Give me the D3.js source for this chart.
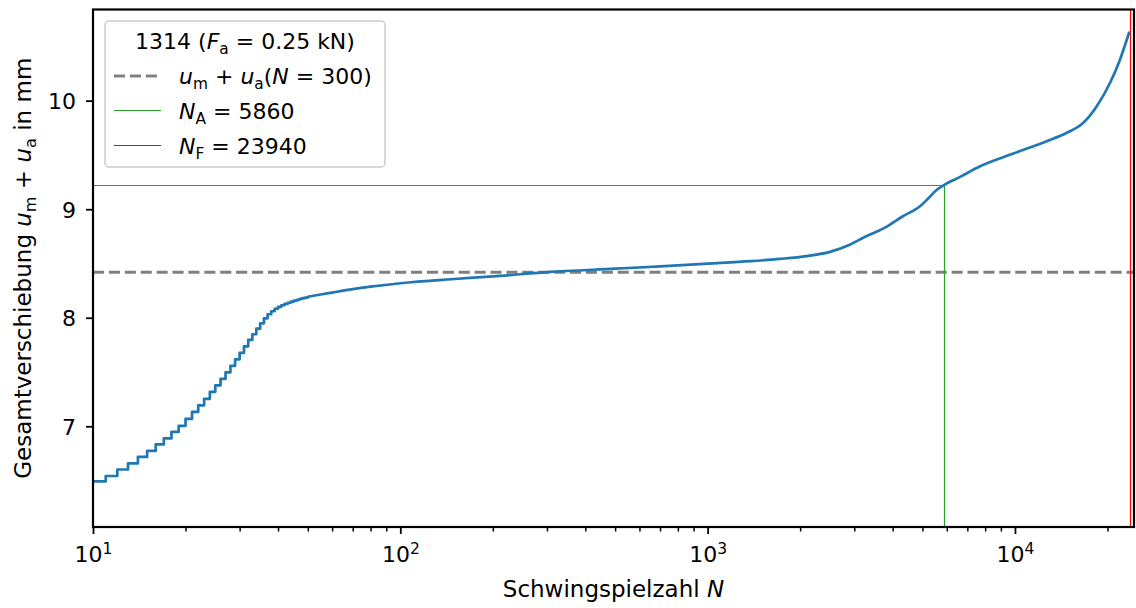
<!DOCTYPE html>
<html>
<head>
<meta charset="utf-8">
<script src="https://cdn.jsdelivr.net/npm/d3@7"></script>
<style>
  body { margin: 0; background: #fff; }
  text { font-family: "DejaVu Sans", sans-serif; fill: #000; }
</style>
</head>
<body>
<svg id="chart" width="1136" height="608"></svg>
<script>
// Early part of the test, one reading per load cycle (drawn as steps)
const stepCycles = [10, 11, 12, 13, 14, 15, 16, 17, 18, 19, 20, 21, 22, 23, 24, 25, 26, 27, 28, 29,
                    30, 31, 32, 33, 34, 35, 36, 37, 38, 39, 40, 41, 42, 43, 44, 45, 46, 47, 48, 49, 50];
const stepDisp = [6.492, 6.542, 6.602, 6.658, 6.718, 6.773, 6.833, 6.888, 6.948, 7.004,
                  7.068, 7.133, 7.193, 7.253, 7.317, 7.377, 7.437, 7.497, 7.557, 7.617,
                  7.677, 7.737, 7.797, 7.848, 7.899, 7.949, 7.995, 8.032, 8.060, 8.083,
                  8.101, 8.115, 8.127, 8.138, 8.148, 8.157, 8.165, 8.173, 8.180, 8.186, 8.193];

// Remaining course of the test up to failure
const trendCycles = [50, 55, 60, 70, 80, 100, 150, 200, 300, 500, 700, 1000, 1380, 1720, 2100,
                     2500, 2900, 3200, 3840, 4320, 4910, 5180, 5500, 5860, 6630, 7700, 9880,
                     12690, 14750, 16690, 18460, 20400, 21980, 23510];
const trendDisp = [8.193, 8.214, 8.232, 8.263, 8.286, 8.318, 8.357, 8.381, 8.420, 8.452, 8.473,
                   8.498, 8.521, 8.542, 8.568, 8.607, 8.673, 8.735, 8.842, 8.935, 9.027, 9.089,
                   9.165, 9.220, 9.298, 9.396, 9.513, 9.626, 9.704, 9.796, 9.949, 10.165,
                   10.380, 10.626];

// Reference level and characteristic cycle numbers
const refDisp = 8.42;           // u_m + u_a at N = 300
const crackCycles = 5860;       // N_A
const crackDisp = 9.22;
const failureCycles = 23940;    // N_F

const xMajorTicks = [10, 100, 1000, 10000];
const xTickExponents = ["1", "2", "3", "4"];
const yTicks = [7, 8, 9, 10];
const yTickLabels = ["7", "8", "9", "10"];

const FONT = 22;
const TITLE_FONT = 23;
const plotLeft = 93, plotRight = 1134, plotTop = 9.5, plotBottom = 527;

const svg = d3.select("#chart");

const x = d3.scaleLog().domain([10, 24400]).range([plotLeft, plotRight]);
const y = d3.scaleLinear().domain([6.072, 10.84]).range([plotBottom, plotTop]);

svg.append("defs").append("clipPath").attr("id", "plotClip")
  .append("rect").attr("x", plotLeft).attr("y", plotTop)
  .attr("width", plotRight - plotLeft).attr("height", plotBottom - plotTop);

const plot = svg.append("g").attr("clip-path", "url(#plotClip)");

// Reference displacement (dashed)
plot.append("line")
  .attr("x1", plotLeft).attr("x2", plotRight)
  .attr("y1", y(refDisp)).attr("y2", y(refDisp))
  .attr("stroke", "#808080").attr("stroke-width", 3)
  .attr("stroke-dasharray", "11.1,4.8");

// N_A marker lines
const crackX = Math.round(x(crackCycles)) + 0.5;
const crackY = Math.round(y(crackDisp)) + 0.5;
plot.append("line")
  .attr("x1", x(10)).attr("x2", crackX)
  .attr("y1", crackY).attr("y2", crackY)
  .attr("stroke", "#2ca02c").attr("stroke-width", 1.2);
plot.append("line")
  .attr("x1", crackX).attr("x2", crackX)
  .attr("y1", plotBottom).attr("y2", crackY)
  .attr("stroke", "#2ca02c").attr("stroke-width", 1.2);

// N_F marker line
const failX = Math.round(x(failureCycles)) - 0.5;
plot.append("line")
  .attr("x1", failX).attr("x2", failX)
  .attr("y1", plotTop).attr("y2", plotBottom)
  .attr("stroke", "#ff0000").attr("stroke-width", 1.2);

// Displacement curve
const stepLine = d3.line().x((d, i) => x(stepCycles[i])).y(d => y(d)).curve(d3.curveStepAfter);
const trendLine = d3.line().x((d, i) => x(trendCycles[i])).y(d => y(d)).curve(d3.curveMonotoneX);

plot.append("path").attr("d", stepLine(stepDisp))
  .attr("fill", "none").attr("stroke", "#1f77b4").attr("stroke-width", 2.7)
  .attr("stroke-linejoin", "round");
plot.append("path").attr("d", trendLine(trendDisp))
  .attr("fill", "none").attr("stroke", "#1f77b4").attr("stroke-width", 2.7)
  .attr("stroke-linejoin", "round").attr("stroke-linecap", "round");

// Minor x ticks
const minorTicks = [];
for (let e = 1; e <= 4; e++) {
  for (let m = 2; m <= 9; m++) {
    const v = m * Math.pow(10, e);
    if (v <= 24400) minorTicks.push(v);
  }
}
const xMinor = svg.append("g").attr("transform", `translate(0,${plotBottom})`)
  .call(d3.axisBottom(x).tickValues(minorTicks).tickSize(4.5).tickFormat(""));
xMinor.select(".domain").remove();
xMinor.selectAll(".tick line").attr("stroke", "#000").attr("stroke-width", 1.5);

// Major x ticks with power-of-ten labels
const xMajor = svg.append("g").attr("transform", `translate(0,${plotBottom})`)
  .call(d3.axisBottom(x).tickValues(xMajorTicks).tickSize(7).tickFormat(""));
xMajor.select(".domain").remove();
xMajor.selectAll(".tick line").attr("stroke", "#000").attr("stroke-width", 1.8);
xMajor.selectAll(".tick text").remove();
xMajor.selectAll(".tick").each(function (d, i) {
  const t = d3.select(this).append("text")
    .attr("y", 35).attr("text-anchor", "middle")
    .style("font-size", FONT + "px");
  t.append("tspan").text("10");
  t.append("tspan").attr("dy", -8).style("font-size", "15.5px").text(xTickExponents[i]);
});

// y axis
const yAxis = svg.append("g").attr("transform", `translate(${plotLeft},0)`)
  .call(d3.axisLeft(y).tickValues(yTicks).tickSize(7).tickPadding(10)
    .tickFormat((d, i) => yTickLabels[i]));
yAxis.select(".domain").remove();
yAxis.selectAll(".tick line").attr("stroke", "#000").attr("stroke-width", 1.8);
yAxis.selectAll(".tick text").style("font-size", FONT + "px")
  .style("font-family", "DejaVu Sans").attr("fill", "#000").attr("dy", "0.36em");

// Frame
svg.append("rect")
  .attr("x", plotLeft).attr("y", plotTop)
  .attr("width", plotRight - plotLeft).attr("height", plotBottom - plotTop)
  .attr("fill", "none").attr("stroke", "#000").attr("stroke-width", 2.2);

// Writes a text made of plain, italic and subscript pieces
function richText(sel, parts, size) {
  const subSize = size * 0.7;
  const subShift = size * 0.23;
  let shift = 0;
  parts.forEach(p => {
    const ts = sel.append("tspan").text(p.t);
    const want = p.sub ? subShift : 0;
    if (want !== shift) ts.attr("dy", want - shift);
    shift = want;
    if (p.it) ts.style("font-style", "italic");
    if (p.sub) ts.style("font-size", subSize + "px");
  });
}

// Axis titles
const xTitle = svg.append("text")
  .attr("x", (plotLeft + plotRight) / 2).attr("y", 597)
  .attr("text-anchor", "middle").style("font-size", TITLE_FONT + "px");
richText(xTitle, [{ t: "Schwingspielzahl " }, { t: "N", it: true }], TITLE_FONT);

const yTitle = svg.append("text")
  .attr("transform", `translate(31,${(plotTop + plotBottom) / 2}) rotate(-90)`)
  .attr("text-anchor", "middle").style("font-size", TITLE_FONT + "px");
richText(yTitle, [
  { t: "Gesamtverschiebung " }, { t: "u", it: true }, { t: "m", sub: true },
  { t: " + " }, { t: "u", it: true }, { t: "a", sub: true }, { t: " in mm" }
], TITLE_FONT);

// Legend
const lg = svg.append("g");
lg.append("rect")
  .attr("x", 105).attr("y", 21).attr("width", 280).attr("height", 146).attr("rx", 4)
  .attr("fill", "#fff").attr("fill-opacity", 0.8)
  .attr("stroke", "#cccccc").attr("stroke-width", 1.5);

const lgTitle = lg.append("text").attr("x", 245).attr("y", 49)
  .attr("text-anchor", "middle").style("font-size", FONT + "px");
richText(lgTitle, [
  { t: "1314 (" }, { t: "F", it: true }, { t: "a", sub: true }, { t: " = 0.25 kN)" }
], FONT);

const entries = [
  { cy: 76, color: "#808080", width: 3, dash: "11.1,4.8",
    parts: [{ t: "u", it: true }, { t: "m", sub: true }, { t: " + " }, { t: "u", it: true },
            { t: "a", sub: true }, { t: "(" }, { t: "N", it: true }, { t: " = 300)" }] },
  { cy: 110.5, color: "#2ca02c", width: 1.2, dash: null,
    parts: [{ t: "N", it: true }, { t: "A", sub: true }, { t: " = " + crackCycles }] },
  { cy: 145.5, color: "#ff0000", width: 1.2, dash: null,
    parts: [{ t: "N", it: true }, { t: "F", sub: true }, { t: " = " + failureCycles }] }
];
entries.forEach(e => {
  const ln = lg.append("line")
    .attr("x1", 114).attr("x2", 161).attr("y1", e.cy).attr("y2", e.cy)
    .attr("stroke", e.color).attr("stroke-width", e.width);
  if (e.dash) ln.attr("stroke-dasharray", e.dash);
  const t = lg.append("text").attr("x", 179).attr("y", Math.round(e.cy) + 8)
    .style("font-size", FONT + "px");
  richText(t, e.parts, FONT);
});
</script>
</body>
</html>
